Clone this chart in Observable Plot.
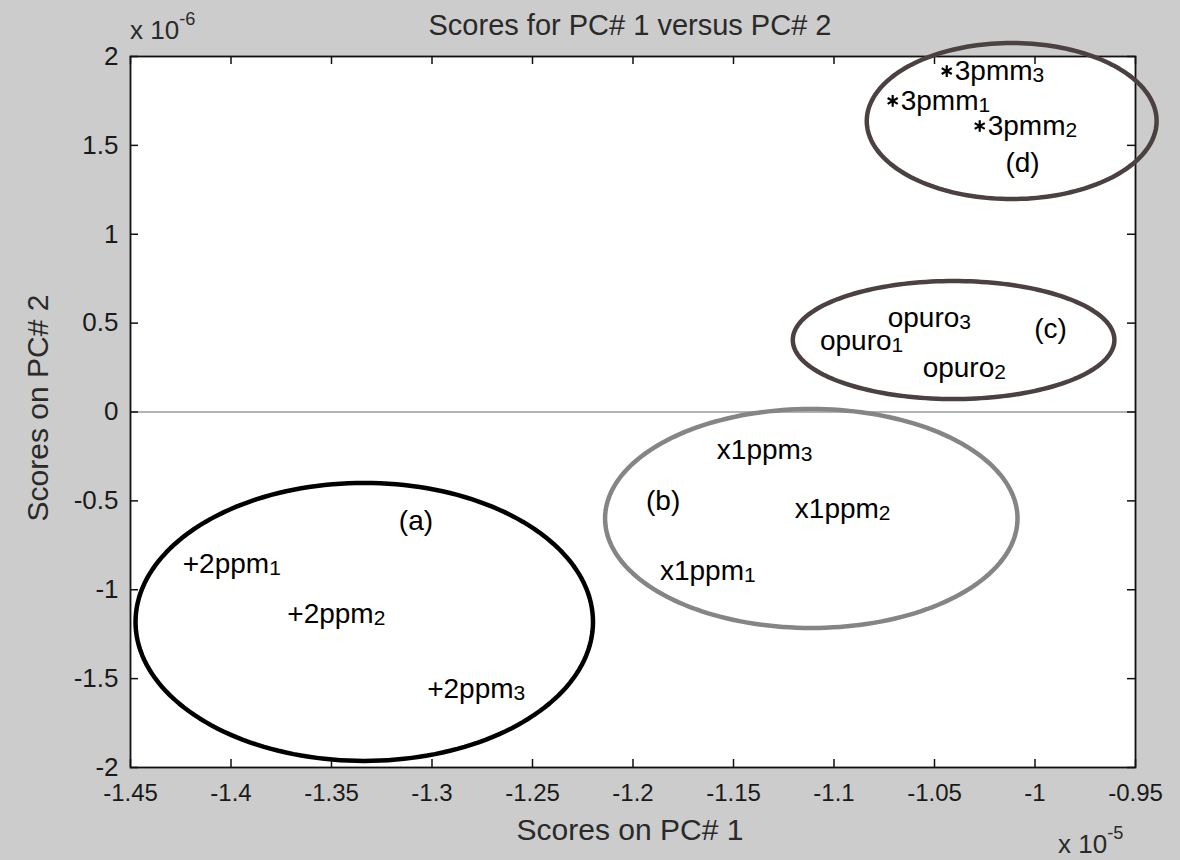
<!DOCTYPE html>
<html><head><meta charset="utf-8">
<script src="https://cdn.jsdelivr.net/npm/d3@7"></script>
<script src="https://cdn.jsdelivr.net/npm/@observablehq/plot@0.6"></script>
<style>
html,body{margin:0;padding:0;background:#cccccc;}
#wrap{position:relative;width:1180px;height:860px;background:#cccccc;font-family:"Liberation Sans",Arial,sans-serif;overflow:hidden;color:#1a1a1a}
.lbl{position:absolute;white-space:nowrap;line-height:1}
.lbl sup{font-size:70%;vertical-align:0.75em}
</style></head><body><div id="wrap"></div>
<script>
// ---- data (PC1 in units of 1e-5, PC2 in units of 1e-6) ----
const pointLabels = ["+2ppm_1","+2ppm_2","+2ppm_3","x1ppm_1","x1ppm_2","x1ppm_3","opuro_1","opuro_2","opuro_3","3pmm_1","3pmm_2","3pmm_3"];
const pointMarker = ["","","","","","","","","","asterisk","asterisk","asterisk"];
const pc1 = [-1.424,-1.372,-1.3024,-1.1866,-1.1195,-1.1583,-1.107,-1.0559,-1.0733,-1.0708,-1.0275,-1.0439];
const pc2 = [-0.855,-1.136,-1.558,-0.894,-0.546,-0.214,0.399,0.248,0.529,1.750,1.609,1.918];

const groupLetters = ["(a)","(b)","(c)","(d)"];
const groupLabelX = [-1.308,-1.185,-0.9923,-1.0062];
const groupLabelY = [-0.613,-0.50,0.467,1.401];

const ellipseCx = [-1.3337,-1.1113,-1.0405,-1.0116];
const ellipseCy = [-1.181,-0.599,0.405,1.637];
const ellipseRx = [0.1138,0.1026,0.080,0.0721];
const ellipseRy = [0.782,0.616,0.332,0.439];
const ellipseColors = ["#000000","#858585","#4b4141","#4b4141"];

const xTicks = [-1.45,-1.4,-1.35,-1.3,-1.25,-1.2,-1.15,-1.1,-1.05,-1,-0.95];
const yTicks = [-2,-1.5,-1,-0.5,0,0.5,1,1.5,2];

// ---- layout ----
const W=1180,H=860,mL=130,mR=45,mT=56,mB=93;
const plotW=W-mL-mR, plotH=H-mT-mB;
const fmt = d => String(+d.toFixed(2));

const pts = pointLabels.map((l,i)=>({label:l,x:pc1[i],y:pc2[i],m:pointMarker[i]}));
const groups = groupLetters.map((t,i)=>({t,x:groupLabelX[i],y:groupLabelY[i]}));

function ellipse(k){
  const out=[];
  for(let a=0;a<=360;a+=2){const t=a*Math.PI/180;out.push({x:ellipseCx[k]+ellipseRx[k]*Math.cos(t),y:ellipseCy[k]+ellipseRy[k]*Math.sin(t)});}
  return out;
}

const font = '"Liberation Sans",Arial,sans-serif';

const svg = Plot.plot({
  width:W,height:H,marginLeft:mL,marginRight:mR,marginTop:mT,marginBottom:mB,
  style:{background:"transparent",overflow:"visible",fontFamily:font},
  x:{domain:[-1.45,-0.95],axis:null},
  y:{domain:[-2,2],axis:null},
  marks:[
    Plot.frame({fill:"white",stroke:"none"}),
    Plot.ruleY([0],{stroke:"#9a9a9a",strokeWidth:1.5}),
    Plot.tickX(xTicks,{x:d=>d,insetBottom:plotH-8,stroke:"#111",strokeWidth:1.5}),
    Plot.tickX(xTicks,{x:d=>d,insetTop:plotH-8,stroke:"#111",strokeWidth:1.5}),
    Plot.tickY(yTicks,{y:d=>d,insetRight:plotW-8,stroke:"#111",strokeWidth:1.5}),
    Plot.tickY(yTicks,{y:d=>d,insetLeft:plotW-8,stroke:"#111",strokeWidth:1.5}),
    Plot.frame({stroke:"#111",strokeWidth:1.8}),
    Plot.axisX(xTicks,{anchor:"bottom",tickSize:0,tickPadding:16,tickFormat:fmt,fontSize:24,fontFamily:font,label:null,fill:"#1a1a1a"}),
    Plot.axisY(yTicks,{anchor:"left",tickSize:0,tickPadding:12,tickFormat:fmt,fontSize:26,fontFamily:font,label:null,fill:"#1a1a1a"}),
    ...[0,1,2,3].map(k=>Plot.line(ellipse(k),{x:"x",y:"y",stroke:ellipseColors[k],strokeWidth:4.5})),
    Plot.text(pts.filter(d=>d.m===""),{x:"x",y:"y",text:"label",textAnchor:"start",lineAnchor:"middle",fontSize:28,fill:"#000"}),
    Plot.dot(pts.filter(d=>d.m==="asterisk"),{x:"x",y:"y",symbol:"asterisk",r:5.5,stroke:"#000",strokeWidth:2.2}),
    Plot.text(pts.filter(d=>d.m==="asterisk"),{x:"x",y:"y",text:"label",textAnchor:"start",lineAnchor:"middle",fontSize:28,dx:8,fill:"#000"}),
    Plot.text(groups,{x:"x",y:"y",text:"t",textAnchor:"middle",lineAnchor:"middle",fontSize:28,fill:"#000"})
  ]
});

// subscripts
const ns="http://www.w3.org/2000/svg";
svg.querySelectorAll("text").forEach(t=>{
  const m=t.textContent.match(/^(.*)_(\d)$/);
  if(m){
    t.textContent=m[1];
    const ts=document.createElementNS(ns,"tspan");
    ts.setAttribute("font-size","75%");
    ts.setAttribute("dy","2");
    ts.textContent=m[2];
    t.appendChild(ts);
  }
});

const wrap=document.getElementById("wrap");
wrap.appendChild(svg);
svg.style.position="absolute";svg.style.left="0";svg.style.top="0";

function addLabel(html,css){const d=document.createElement("div");d.className="lbl";d.innerHTML=html;Object.assign(d.style,css);wrap.appendChild(d);return d;}
addLabel("Scores for PC# 1 versus PC# 2",{left:"630px",top:"11px",transform:"translateX(-50%)",fontSize:"29px",color:"#2a2a2a"});
addLabel("Scores on PC# 1",{left:"630px",top:"815px",transform:"translateX(-50%)",fontSize:"30px",color:"#2a2a2a"});
addLabel("Scores on PC# 2",{left:"38px",top:"408px",transform:"translate(-50%,-50%) rotate(-90deg)",fontSize:"30px",color:"#2a2a2a"});
addLabel("x 10<sup>-6</sup>",{left:"130px",top:"10px",fontSize:"26px",color:"#2a2a2a"});
addLabel("x 10<sup>-5</sup>",{left:"1058px",top:"824px",fontSize:"26px",color:"#2a2a2a"});
</script></body></html>
